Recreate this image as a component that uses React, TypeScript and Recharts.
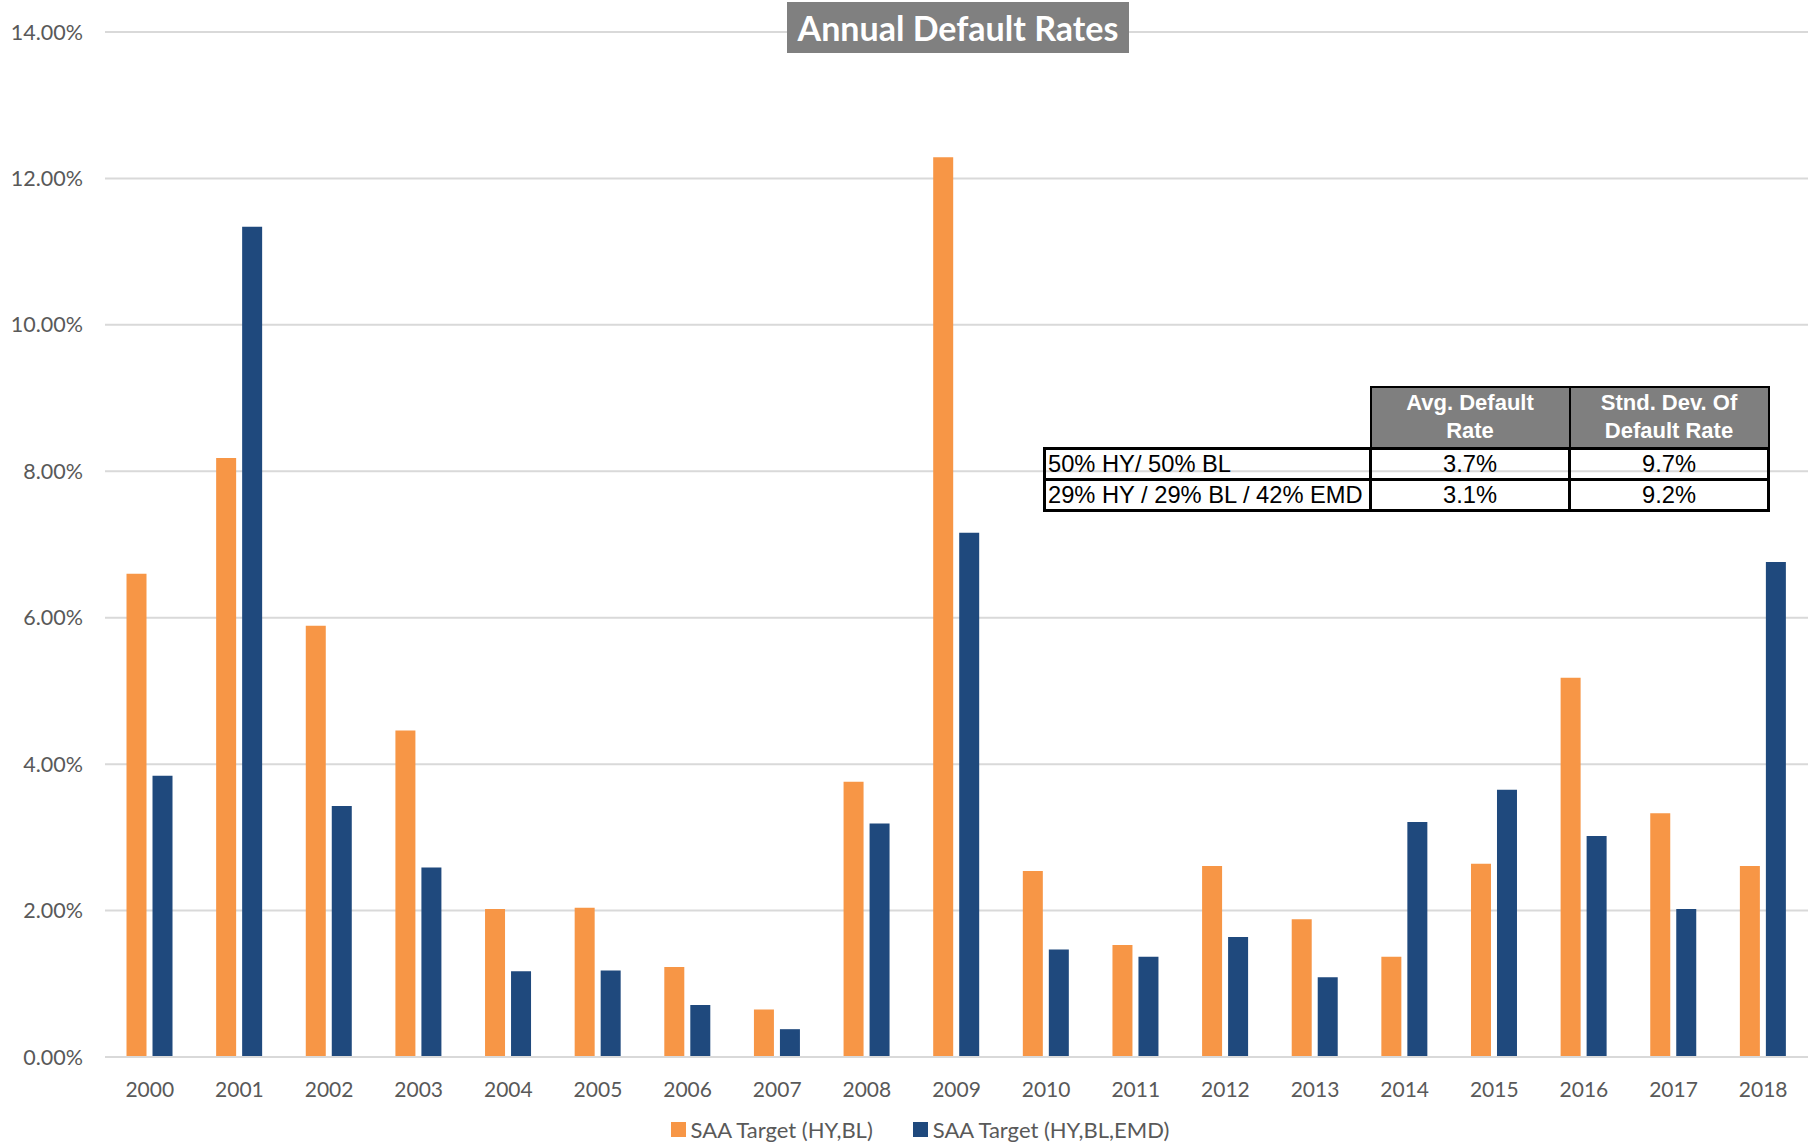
import { BarChart, Bar, XAxis, YAxis, CartesianGrid } from 'recharts';

const years = ['2000', '2001', '2002', '2003', '2004', '2005', '2006', '2007', '2008', '2009', '2010', '2011', '2012', '2013', '2014', '2015', '2016', '2017', '2018'];
const hyBl = [6.6, 8.18, 5.89, 4.46, 2.02, 2.04, 1.23, 0.65, 3.76, 12.29, 2.54, 1.53, 2.61, 1.88, 1.37, 2.64, 5.18, 3.33, 2.61];
const hyBlEmd = [3.84, 11.34, 3.43, 2.59, 1.17, 1.18, 0.71, 0.38, 3.19, 7.16, 1.47, 1.37, 1.64, 1.09, 3.21, 3.65, 3.02, 2.02, 6.76];
const yTicks = [0, 2, 4, 6, 8, 10, 12, 14];

const seriesNames = ['SAA Target (HY,BL)', 'SAA Target (HY,BL,EMD)'];
const seriesColors = ['#F79646', '#1F497D'];

const tableHeader = ['Avg. Default Rate', 'Stnd. Dev. Of Default Rate'];
const tableRows = [
  { label: '50% HY/ 50% BL', avg: '3.7%', std: '9.7%' },
  { label: '29% HY / 29% BL / 42% EMD', avg: '3.1%', std: '9.2%' },
];

const data = years.map((y, i) => ({ year: y, a: hyBl[i], b: hyBlEmd[i] }));

const font = 'Lato, "Open Sans", sans-serif';
const arial = '"Liberation Sans", Arial, sans-serif';

export default function App() {
  const cell = {
    border: '3px solid #000', height: 31, boxSizing: 'border-box' as const, fontSize: 23.7,
    lineHeight: '24px', padding: '0 2px', fontFamily: arial, whiteSpace: 'nowrap' as const,
  };
  return (
    <div style={{ position: 'absolute', left: 0, top: 0, width: 1816, height: 1144, background: '#fff' }}>
      <BarChart
        width={1816}
        height={1144}
        data={data}
        margin={{ top: 32, right: 8, bottom: 0, left: 0 }}
        barCategoryGap="24%"
        barGap={6}
      >
        <CartesianGrid vertical={false} stroke="#d9d9d9" strokeWidth={2} />
        <XAxis
          dataKey="year"
          axisLine={{ stroke: '#d9d9d9', strokeWidth: 2 }}
          tickLine={false}
          tickSize={0}
          tickMargin={25}
          tick={{ fill: '#595959', fontSize: 21, fontFamily: font }}
          height={87}
        />
        <YAxis
          domain={[0, 14]}
          ticks={yTicks}
          width={105}
          axisLine={false}
          tickLine={false}
          tickSize={0}
          tickMargin={22}
          tickFormatter={(v: number) => `${v.toFixed(2)}%`}
          tick={{ fill: '#595959', fontSize: 21.5, fontFamily: font }}
        />
        <Bar dataKey="a" name={seriesNames[0]} fill={seriesColors[0]} isAnimationActive={false} />
        <Bar dataKey="b" name={seriesNames[1]} fill={seriesColors[1]} isAnimationActive={false} />
      </BarChart>

      <div
        style={{
          position: 'absolute', left: 0, top: 1116, width: 1816, display: 'flex', justifyContent: 'center',
          gap: 40, fontFamily: font, fontSize: 22, color: '#595959', paddingLeft: 24, boxSizing: 'border-box',
        }}
      >
        {seriesNames.map((n, i) => (
          <div key={n} style={{ display: 'flex', alignItems: 'center' }}>
            <span style={{ width: 15, height: 15, background: seriesColors[i], marginRight: 5, display: 'inline-block' }} />
            {n}
          </div>
        ))}
      </div>

      <div
        style={{
          position: 'absolute', left: 787, top: 2, width: 342, height: 51, background: '#808080',
          color: '#fff', fontFamily: font, fontWeight: 700, fontSize: 34, display: 'flex',
          alignItems: 'center', justifyContent: 'center',
        }}
      >
        Annual Default Rates
      </div>

      <table
        style={{
          position: 'absolute', left: 1043, top: 386, borderCollapse: 'collapse', tableLayout: 'fixed', width: 724,
        }}
      >
        <colgroup>
          <col style={{ width: 326 }} />
          <col style={{ width: 199 }} />
          <col style={{ width: 199 }} />
        </colgroup>
        <tbody>
          <tr style={{ height: 61 }}>
            <td style={{ border: 'none' }} />
            {tableHeader.map((h) => (
              <td
                key={h}
                style={{
                  background: '#7f7f7f', color: '#fff', fontWeight: 700, fontSize: 22, textAlign: 'center',
                  border: '2px solid #000', lineHeight: '28px', padding: '0 22px', fontFamily: arial,
                }}
              >
                {h}
              </td>
            ))}
          </tr>
          {tableRows.map((r) => (
            <tr key={r.label} style={{ height: 31 }}>
              <td style={cell}>{r.label}</td>
              <td style={{ ...cell, textAlign: 'center' }}>{r.avg}</td>
              <td style={{ ...cell, textAlign: 'center' }}>{r.std}</td>
            </tr>
          ))}
        </tbody>
      </table>
    </div>
  );
}
